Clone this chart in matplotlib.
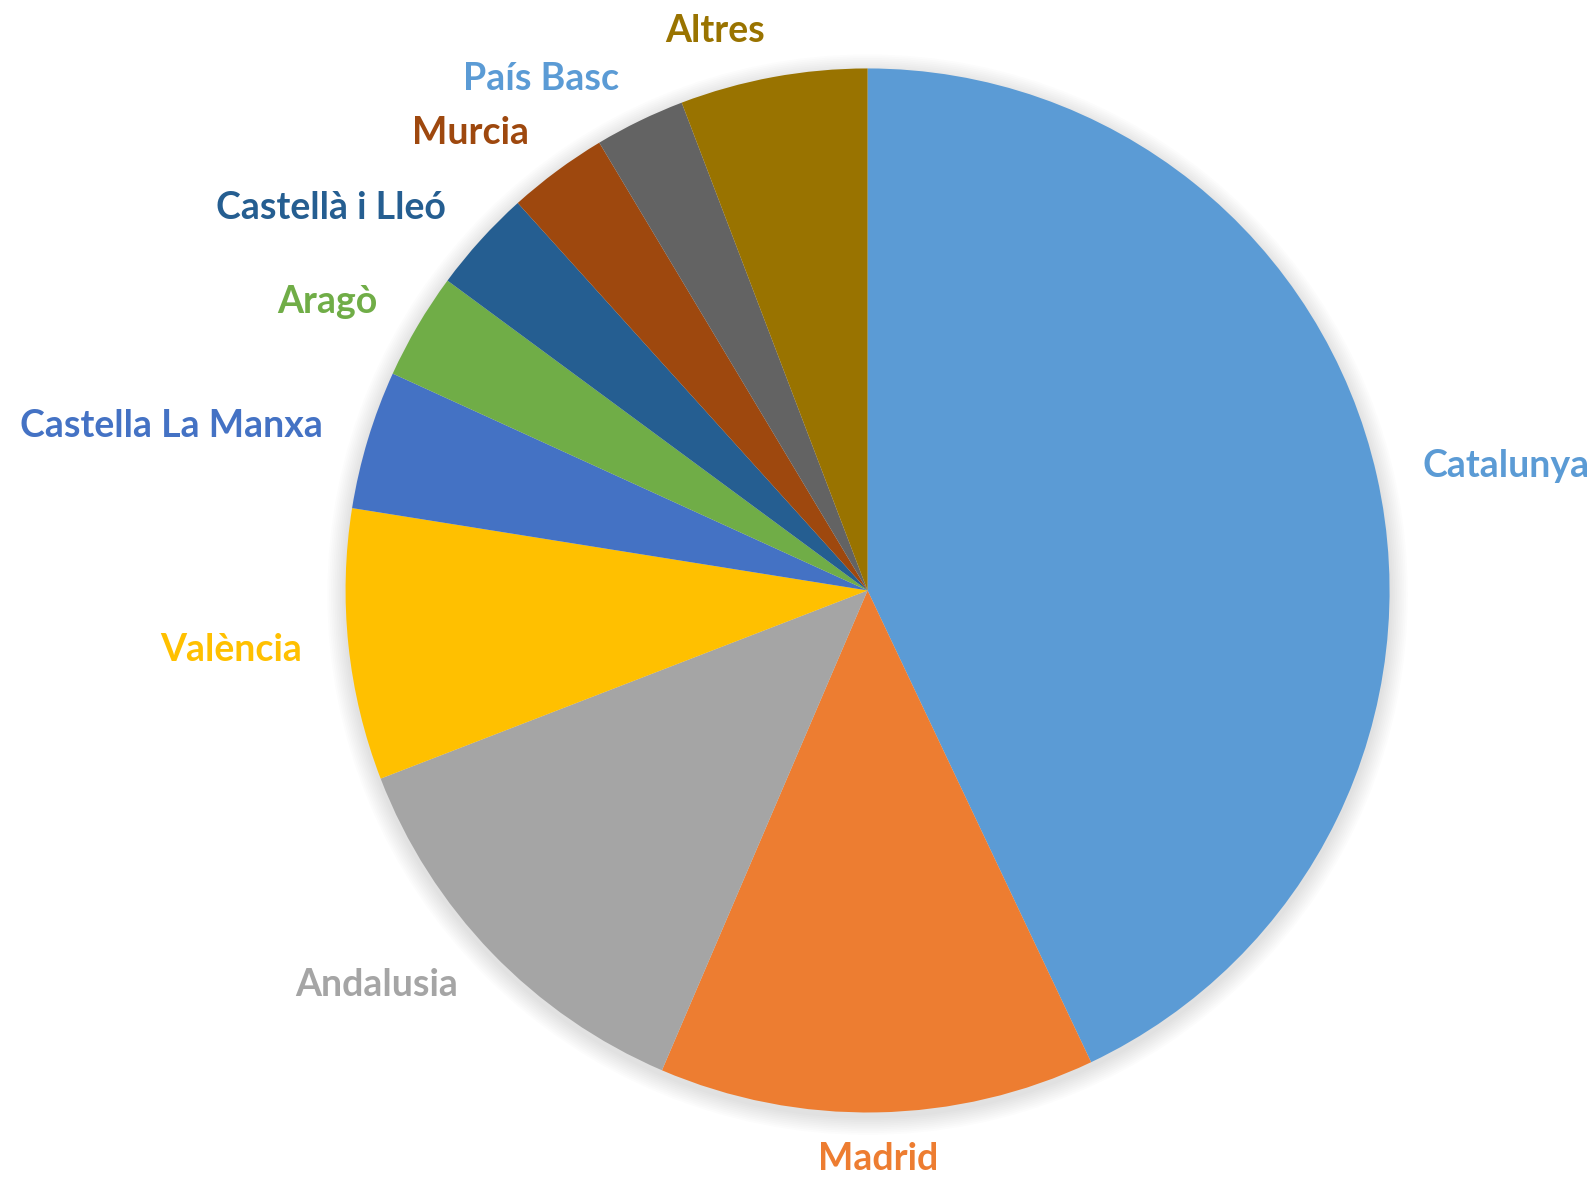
import matplotlib.pyplot as plt
from matplotlib.patches import Circle

regions = ['Catalunya', 'Madrid', 'Andalusia', 'València', 'Castella La Manxa',
           'Aragò', 'Castellà i Lleó', 'Murcia', 'País Basc', 'Altres']
shares = [43.0, 13.5, 12.7, 8.4, 4.3, 3.3, 3.2, 3.1, 2.8, 5.8]
slice_colors = ['#5B9BD5', '#ED7D31', '#A5A5A5', '#FFC000', '#4472C4',
                '#70AD47', '#255E91', '#9E480E', '#636363', '#997300']
label_colors = ['#5B9BD5', '#ED7D31', '#A5A5A5', '#FFC000', '#4472C4',
                '#70AD47', '#255E91', '#9E480E', '#5B9BD5', '#997300']

plt.rcParams['font.family'] = ['Lato', 'DejaVu Sans']

fig = plt.figure(figsize=(15.91, 11.84), dpi=100)
ax = fig.add_axes([0.2172, 0.0604, 0.6562, 0.8818])

# soft shadow behind the pie
for i in range(10):
    r = 1.0 + 0.0035 * (i + 1)
    ax.add_patch(Circle((0.0, -0.008), r, color='black', alpha=0.012, lw=0,
                        zorder=0, clip_on=False))

wedges, texts = ax.pie(shares, labels=regions, colors=slice_colors, startangle=90,
                       counterclock=False, labeldistance=1.09, radius=1.0,
                       wedgeprops=dict(linewidth=0),
                       textprops=dict(fontsize=27, fontweight='bold'))
for t, c in zip(texts, label_colors):
    t.set_color(c)
texts[1].set_ha('center')
for w in wedges:
    w.set_zorder(2)
    w.set_clip_on(False)

ax.set_xlim(-1, 1)
ax.set_ylim(-1, 1)
ax.set_aspect('equal')
ax.axis('off')

fig.savefig('out.png', dpi=100)
